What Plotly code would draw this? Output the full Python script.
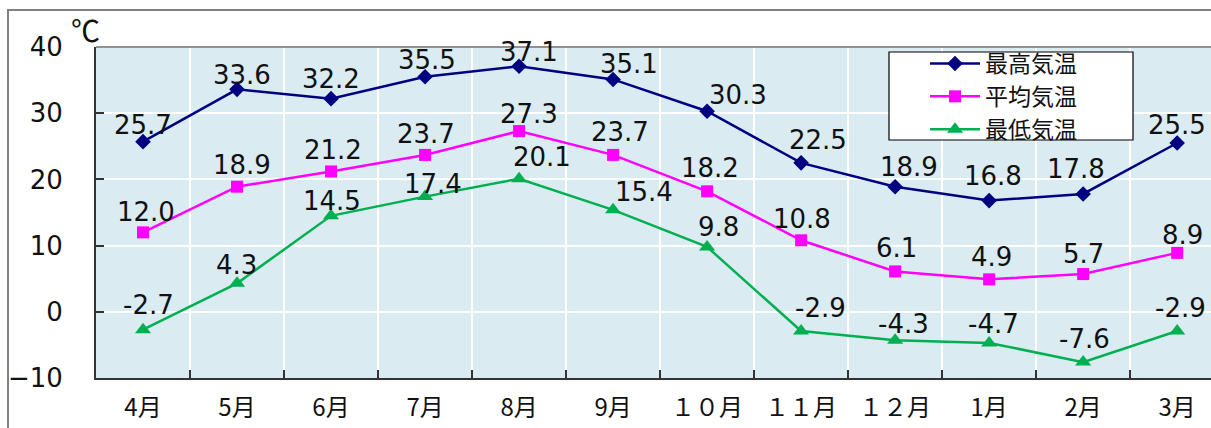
import plotly.graph_objects as go

months = ["4月", "5月", "6月", "7月", "8月", "9月", "１０月", "１１月", "１２月", "1月", "2月", "3月"]
t_max = [25.7, 33.6, 32.2, 35.5, 37.1, 35.1, 30.3, 22.5, 18.9, 16.8, 17.8, 25.5]
t_avg = [12.0, 18.9, 21.2, 23.7, 27.3, 23.7, 18.2, 10.8, 6.1, 4.9, 5.7, 8.9]
t_min = [-2.7, 4.3, 14.5, 17.4, 20.1, 15.4, 9.8, -2.9, -4.3, -4.7, -7.6, -2.9]
y_ticks = [-10, 0, 10, 20, 30, 40]

# label nudges (pixels, right / up), styling only
max_dx = [0, 5, 0, 2, 10, 16, 31, 17, 14, 4, -7, 0]
max_dy = [19, 16, 22, 19, 16, 17, 18, 25, 22, 27, 27, 20]
avg_dx = [3, 5, 2, 1, 10, 7, 3, 1, 1, 2, 0, 5]
avg_dy = [22, 24, 23, 23, 19, 25, 25, 23, 25, 24, 22, 20]
min_dx = [5, -1, 1, 8, 23, 31, 11, 19, 8, 4, 1, 3]
min_dy = [27, 20, 17, 15, 24, 20, 22, 25, 18, 21, 25, 25]

FONT = "Noto Sans CJK JP"
NUMFONT = "DejaVu Sans"
W, H = 1211, 428
L, R, T, B = 96, 0, 47, 50
pw, ph = W - L - R, H - T - B


def px(x):
    return (x - L) / pw


def py(y):
    return 1 - (y - T) / ph


fig = go.Figure()
series = [
    ("最高気温", t_max, "#000080", "diamond", 12, max_dx, max_dy),
    ("平均気温", t_avg, "#FF00FF", "square", 12, avg_dx, avg_dy),
    ("最低気温", t_min, "#00B050", "triangle-up", 14, min_dx, min_dy),
]
annotations = []
for name, vals, col, sym, sz, dxs, dys in series:
    fig.add_trace(go.Scatter(
        x=months, y=vals, name=name, mode="lines+markers",
        line=dict(color=col, width=2.5),
        marker=dict(symbol=sym, size=sz, color=col),
        cliponaxis=False,
    ))
    for m, v, dx, dy in zip(months, vals, dxs, dys):
        annotations.append(dict(
            x=m, y=v, xref="x", yref="y", text=f"{v:.1f}", showarrow=False,
            xanchor="center", yanchor="middle", xshift=dx, yshift=dy - 2,
            font=dict(family=NUMFONT, size=26, color="#111111"),
        ))

annotations.append(dict(
    text="℃", xref="paper", yref="paper", x=px(69), y=py(29),
    xanchor="left", yanchor="middle", showarrow=False,
    font=dict(family=FONT, size=29, color="#111111"),
))

fig.update_layout(
    width=W, height=H,
    margin=dict(l=L, r=R, t=T, b=B, autoexpand=False),
    paper_bgcolor="white", plot_bgcolor="#DAEBF2",
    font=dict(family=FONT, color="#111111"),
    showlegend=True,
    legend=dict(
        x=px(925), y=py(42), xanchor="left", yanchor="top",
        bgcolor="rgba(0,0,0,0)", borderwidth=0,
        font=dict(family=FONT, size=23, color="#111111"),
        tracegroupgap=0, itemwidth=50,
    ),
    xaxis=dict(
        type="category", range=[-0.5, 11.36], tickson="boundaries",
        showgrid=True, gridcolor="white", gridwidth=1.5,
        ticks="inside", ticklen=8, tickcolor="#333333", tickwidth=1.5,
        showline=True, linecolor="#333333", linewidth=2,
        tickfont=dict(family=FONT, size=24, color="#111111"),
        ticklabelstandoff=7, zeroline=False, automargin=False,
    ),
    yaxis=dict(
        range=[-10, 40], tickvals=y_ticks,
        showgrid=True, gridcolor="white", gridwidth=1.5,
        ticks="inside", ticklen=8, tickcolor="#333333", tickwidth=1.5,
        showline=True, linecolor="#333333", linewidth=2,
        tickfont=dict(family=NUMFONT, size=26, color="#111111"),
        ticklabelstandoff=26, zeroline=False, automargin=False,
    ),
    shapes=[
        dict(type="rect", xref="paper", yref="paper",
             x0=px(8), x1=px(1230), y0=py(460), y1=py(10),
             line=dict(color="#808080", width=2), fillcolor="rgba(0,0,0,0)", layer="below"),
        dict(type="line", xref="paper", yref="paper", x0=0, x1=1, y0=1, y1=1,
             line=dict(color="#909090", width=2)),
        dict(type="rect", xref="paper", yref="paper",
             x0=px(889), x1=px(1133), y0=py(140), y1=py(52),
             line=dict(color="#000000", width=1.2), fillcolor="white", layer="above"),
    ],
    annotations=annotations,
)

fig.write_html("out.html", config={"displayModeBar": False})
with open("out.html", "r", encoding="utf-8") as f:
    html = f.read()
html = html.replace("<body>", '<body style="margin:0;padding:0;overflow:hidden">', 1)
with open("out.html", "w", encoding="utf-8") as f:
    f.write(html)
